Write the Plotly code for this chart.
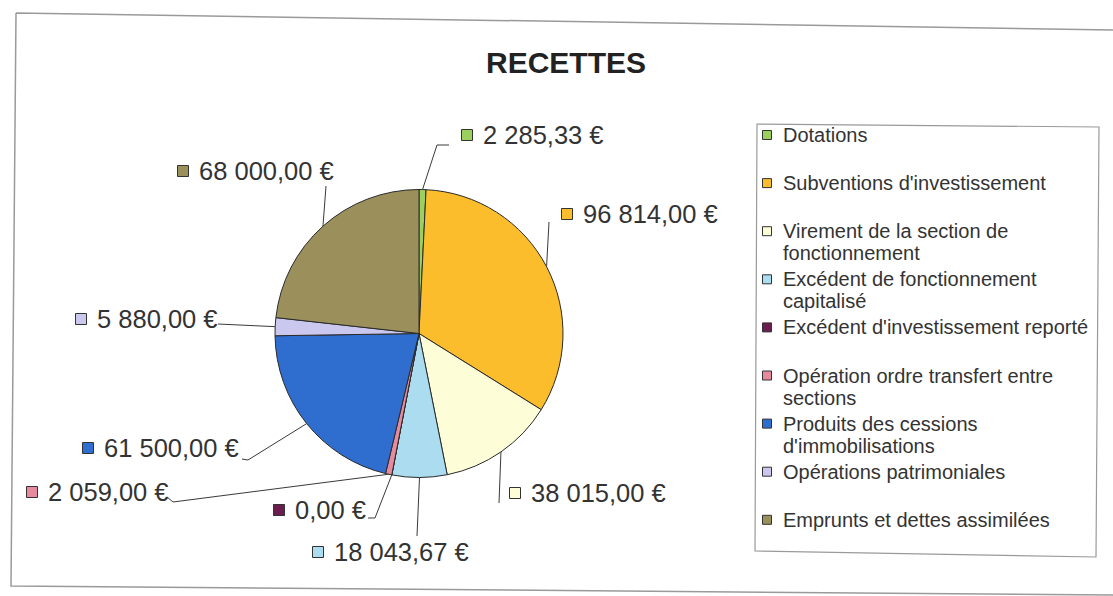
import textwrap
import numpy as np
import plotly.graph_objects as go

# ---------------- data ----------------
title = "RECETTES"
categories = [
    "Dotations",
    "Subventions d'investissement",
    "Virement de la section de fonctionnement",
    "Excédent de fonctionnement capitalisé",
    "Excédent d'investissement reporté",
    "Opération ordre transfert entre sections",
    "Produits des cessions d'immobilisations",
    "Opérations patrimoniales",
    "Emprunts et dettes assimilées",
]
values = [2285.33, 96814.00, 38015.00, 18043.67, 0.00, 2059.00, 61500.00, 5880.00, 68000.00]
colors = ["#9bcf5e", "#fbbd2c", "#fdfdd8", "#abdcf0", "#6b1d4f",
          "#e88a9e", "#2f6dce", "#cbc8f0", "#9b8f5c"]

# ---------------- layout constants (pixels) ----------------
W, H = 1113, 596
CX, CY, R = 419, 333.5, 144
FONT = "Liberation Sans, Arial, sans-serif"
TXT = "#333333"

# label placement for each slice: square centre, leader waypoints
label_sq = [(467, 135), (567, 214), (515, 493), (318, 552), (279, 510),
            (32, 492), (88, 448), (81, 319), (183, 171)]
leader_pts = [[(437, 145), (449, 145)], [(549, 222)], [(499, 503)], [(417, 536)],
              [(375, 518), (368, 518)], [(173, 502), (167, 497)],
              [(248, 460), (242, 459)], [(218, 324)], [(326, 186)]]

# legend placement
LEG_SQ_X, LEG_TXT_X, LEG_Y0, LEG_STEP, LEG_LINE = 767, 781, 135, 48.1, 22


def px(x):
    return x / W


def py(y):
    return 1 - y / H


def fmt(v):
    s = f"{v:,.2f}".replace(",", " ").replace(".", ",")
    return s + " €"


fig = go.Figure()
fig.add_trace(go.Pie(
    labels=categories, values=values, sort=False, direction="clockwise", rotation=0,
    marker=dict(colors=colors, line=dict(color="#2a2a2a", width=1)),
    textinfo="none", hoverinfo="label+value",
    domain=dict(x=[px(CX - R), px(CX + R)], y=[py(CY + R), py(CY - R)]),
    showlegend=False,
))

shapes = []
annotations = []

# outer (scanned) frame and legend frame
shapes.append(dict(type="path", xref="paper", yref="paper",
                   path=f"M{px(16)},{py(13)} L{px(1113)},{py(30)} M{px(16)},{py(13)} L{px(11)},{py(586)} L{px(1113)},{py(595)}",
                   line=dict(color="#9a9a9a", width=1.5)))
shapes.append(dict(type="path", xref="paper", yref="paper",
                   path=f"M{px(757)},{py(124)} L{px(1099)},{py(127)} L{px(1096)},{py(557)} L{px(755)},{py(551)} Z",
                   line=dict(color="#9a9a9a", width=1.2)))

# title
annotations.append(dict(text=f"<b>{title}</b>", x=px(566), y=py(62), xref="paper", yref="paper",
                        showarrow=False, xanchor="center", yanchor="middle",
                        font=dict(family=FONT, size=30, color="#222222")))

# data labels with leader lines
total = float(np.sum(values))
cum = 0.0
for i, v in enumerate(values):
    mid = (cum + v / 2) / total
    cum += v
    th = 2 * np.pi * mid
    ex, ey = CX + R * np.sin(th), CY - R * np.cos(th)
    pts = [(ex, ey)] + leader_pts[i]
    path = "M" + " L".join(f"{px(x)},{py(y)}" for x, y in pts)
    shapes.append(dict(type="path", xref="paper", yref="paper", path=path,
                       line=dict(color="#3a3a3a", width=1)))
    sx, sy = label_sq[i]
    s = 5.5
    shapes.append(dict(type="rect", xref="paper", yref="paper",
                       x0=px(sx - s), x1=px(sx + s), y0=py(sy + s), y1=py(sy - s),
                       fillcolor=colors[i], line=dict(color="#333333", width=1)))
    annotations.append(dict(text=fmt(v), x=px(sx + 14), y=py(sy), xref="paper", yref="paper",
                            showarrow=False, xanchor="left", yanchor="middle",
                            font=dict(family=FONT, size=25.5, color=TXT)))

# legend (wrapped like the original)
for i, name in enumerate(categories):
    y = LEG_Y0 + i * LEG_STEP
    s = 4.5
    shapes.append(dict(type="rect", xref="paper", yref="paper",
                       x0=px(LEG_SQ_X - s), x1=px(LEG_SQ_X + s), y0=py(y + s), y1=py(y - s),
                       fillcolor=colors[i], line=dict(color="#333333", width=1)))
    for j, line in enumerate(textwrap.wrap(name, 33)):
        annotations.append(dict(text=line, x=px(LEG_TXT_X), y=py(y + j * LEG_LINE),
                                xref="paper", yref="paper", showarrow=False,
                                xanchor="left", yanchor="middle",
                                font=dict(family=FONT, size=20, color=TXT)))

fig.update_layout(
    width=W, height=H, margin=dict(l=0, r=0, t=0, b=0),
    paper_bgcolor="white", plot_bgcolor="white",
    shapes=shapes, annotations=annotations, showlegend=False,
)

fig.write_html("out.html", config={"displayModeBar": False},
               post_script="document.body.style.margin='0px';document.body.style.overflow='hidden';")
